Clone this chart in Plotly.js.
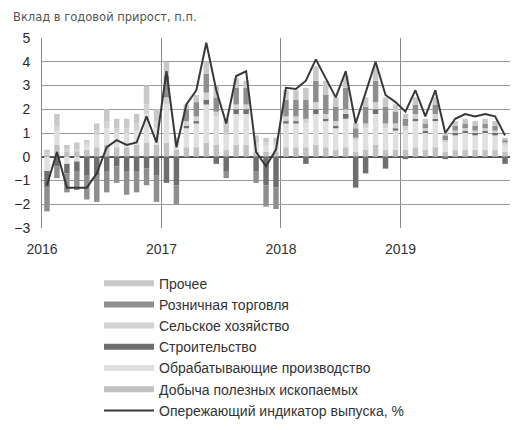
<!DOCTYPE html>
<html>
<head>
<meta charset="utf-8">
<script src="https://cdn.plot.ly/plotly-3.0.1.min.js"></script>
<style>
html,body{margin:0;padding:0;background:#fff;}
#chart{width:514px;height:430px;}
</style>
</head>
<body>
<div id="chart"></div>
<script>
// Months: Jan 2016 .. Nov 2019 (index 0..46)
var months = [];
for (var y = 2016; y <= 2019; y++) {
  for (var m = 1; m <= 12; m++) {
    if (y === 2019 && m > 11) break;
    months.push(y + '-' + (m < 10 ? '0' + m : m));
  }
}
var monthIndex = months.map(function (_, i) { return i; });

var yearTickVals = [-0.5, 11.5, 23.5, 35.5];
var yearTickText = ['2016', '2017', '2018', '2019'];

var mining = [0.1,0.5,0.2,0.2,0.3,0.4,0.5,0.4,0.4,0.5,0.6,0.5,
              0.6,0.3,0.4,0.4,0.6,0.5,0.3,0.5,0.5,0.2,0.2,0.2,
              0.4,0.4,0.4,0.5,0.4,0.3,0.4,0.2,0.3,0.5,0.3,0.3,
              0.3,0.4,0.3,0.4,0.2,0.3,0.3,0.3,0.3,0.3,0.2];
var manufacturing = [-0.6,0.6,-0.3,-0.2,0.2,0.5,0.7,0.6,0.6,0.6,1.2,0.7,
              1.6,0.3,0.8,1.0,1.6,1.2,0.6,1.3,1.3,0.3,0.3,0.3,
              1.0,1.0,1.0,1.3,1.1,0.9,1.2,0.5,0.9,1.3,0.9,0.8,
              0.8,1.1,0.7,1.1,0.4,0.6,0.7,0.6,0.7,0.6,0.3];
var construction = [-0.7,-0.4,-0.4,-0.4,-0.8,-0.8,-0.6,-0.4,-0.6,-0.6,-0.5,-0.8,
              -1.1,-1.2,0.1,0.1,0.2,-0.3,-0.6,0.2,0.2,-0.6,-1.2,-1.3,
              0.1,0.1,-0.3,0.2,0.1,0.1,0.2,-1.3,-0.7,0.2,-0.5,0.1,
              -0.1,0.1,0.1,0.1,-0.1,0.1,0.1,0.1,0.1,0.1,-0.3];
var agriculture = [0.1,0.2,0.1,0.1,0.1,0.2,0.3,0.2,0.2,0.3,0.4,0.3,
              0.3,0.1,0.2,0.2,0.3,0.2,0.1,0.2,0.2,0.1,0.1,0.1,
              0.2,0.2,0.2,0.3,0.2,0.2,0.2,0.1,0.2,0.3,0.2,0.2,
              0.2,0.2,0.1,0.2,0.1,0.1,0.1,0.1,0.1,0.1,0.1];
var retail = [-1.0,-0.5,-0.8,-0.8,-1.0,-1.1,-0.9,-0.7,-1.0,-0.9,-0.7,-1.1,
              0.9,-0.8,0.5,0.6,0.8,0.6,-0.3,0.7,0.7,-0.5,-0.9,-0.9,
              0.7,0.7,0.8,0.9,0.8,0.6,0.9,0.4,0.7,0.9,0.7,0.5,
              0.3,0.4,0.2,0.4,0.2,0.2,0.2,0.2,0.2,0.2,0.1];
var other = [0.1,0.5,0.2,0.3,0.1,0.3,0.5,0.4,0.4,0.4,0.8,0.5,
              0.6,0.1,0.2,0.3,0.5,0.5,0.6,0.4,0.3,0.3,0.2,0.2,
              0.4,0.4,0.5,0.6,0.6,0.4,0.5,0.2,0.4,0.6,0.4,0.3,
              0.2,0.3,0.2,0.3,0.1,0.2,0.2,0.2,0.2,0.2,0.1];
var leadingIndicator = [-1.2,0.2,-1.3,-1.3,-1.3,-0.7,0.4,0.7,0.5,0.6,1.7,0.6,
              3.6,0.4,2.2,2.8,4.8,2.8,1.4,3.4,3.6,0.2,-0.4,0.3,
              2.9,2.85,3.2,4.1,3.3,2.5,3.6,1.4,2.7,4.0,2.6,2.3,
              1.9,2.8,1.7,2.8,1.0,1.6,1.8,1.7,1.8,1.7,0.9];

var series = [
  {vals: mining, name: 'Добыча полезных ископаемых', color: '#c2c2c2'},
  {vals: manufacturing, name: 'Обрабатывающие производство', color: '#e0e0e0'},
  {vals: construction, name: 'Строительство', color: '#6e6e6e'},
  {vals: agriculture, name: 'Сельское хозяйство', color: '#d2d2d2'},
  {vals: retail, name: 'Розничная торговля', color: '#8e8e8e'},
  {vals: other, name: 'Прочее', color: '#c8c8c8'}
];
var lineName = 'Опережающий индикатор выпуска, %';

var traces = [
  {type: 'scatter', mode: 'lines', x: monthIndex, y: leadingIndicator, name: lineName,
   line: {color: '#383838', width: 2}}
];
series.forEach(function (s) {
  traces.push({type: 'bar', x: monthIndex, y: s.vals, name: s.name, showlegend: false,
               marker: {color: s.color, line: {width: 0}}});
});
// legend swatches drawn as thick strokes (no data points)
series.forEach(function (s) {
  traces.push({type: 'scatter', mode: 'lines', x: [null], y: [null], name: s.name,
               line: {color: s.color, width: 6}, hoverinfo: 'skip'});
});

var font = 'Liberation Sans, Arial, sans-serif';

var layout = {
  width: 514, height: 430,
  margin: {l: 42, r: 4, t: 38, b: 200},
  paper_bgcolor: '#ffffff', plot_bgcolor: '#ffffff',
  barmode: 'relative', bargap: 0.45,
  font: {family: font, color: '#3a3a3a'},
  title: {text: 'Вклад в годовой прирост, п.п.', font: {size: 11.5, color: '#555', family: 'DejaVu Sans, sans-serif'},
          x: 13/514, xanchor: 'left', xref: 'container', y: 1 - 17/430, yanchor: 'middle', yref: 'container'},
  xaxis: {range: [-0.5, 46.5], tickmode: 'array', tickvals: yearTickVals, ticktext: yearTickText,
          showgrid: true, gridcolor: '#8a8a8a', gridwidth: 1, zeroline: false,
          ticks: 'outside', ticklen: 8, tickcolor: 'rgba(0,0,0,0)',
          tickfont: {size: 14, color: '#333', family: font}, showline: false, fixedrange: true},
  yaxis: {range: [-3, 5], dtick: 1, tick0: 0, showgrid: true, gridcolor: '#9a9a9a', gridwidth: 1,
          zeroline: true, zerolinecolor: '#555', zerolinewidth: 1.5,
          showline: true, linecolor: '#8a8a8a', linewidth: 1,
          ticks: 'outside', ticklen: 8, tickcolor: 'rgba(0,0,0,0)',
          tickfont: {size: 14, color: '#2a2a2a', family: font}, fixedrange: true},
  showlegend: true,
  legend: {x: (99-42)/468, xanchor: 'left', y: -40/192, yanchor: 'top',
           traceorder: 'reversed', orientation: 'v', itemwidth: 50,
           font: {size: 14, color: '#333', family: font},
           tracegroupgap: 0, bgcolor: 'rgba(0,0,0,0)'}
};

Plotly.newPlot('chart', traces, layout, {displayModeBar: false, staticPlot: true});
</script>
</body>
</html>
